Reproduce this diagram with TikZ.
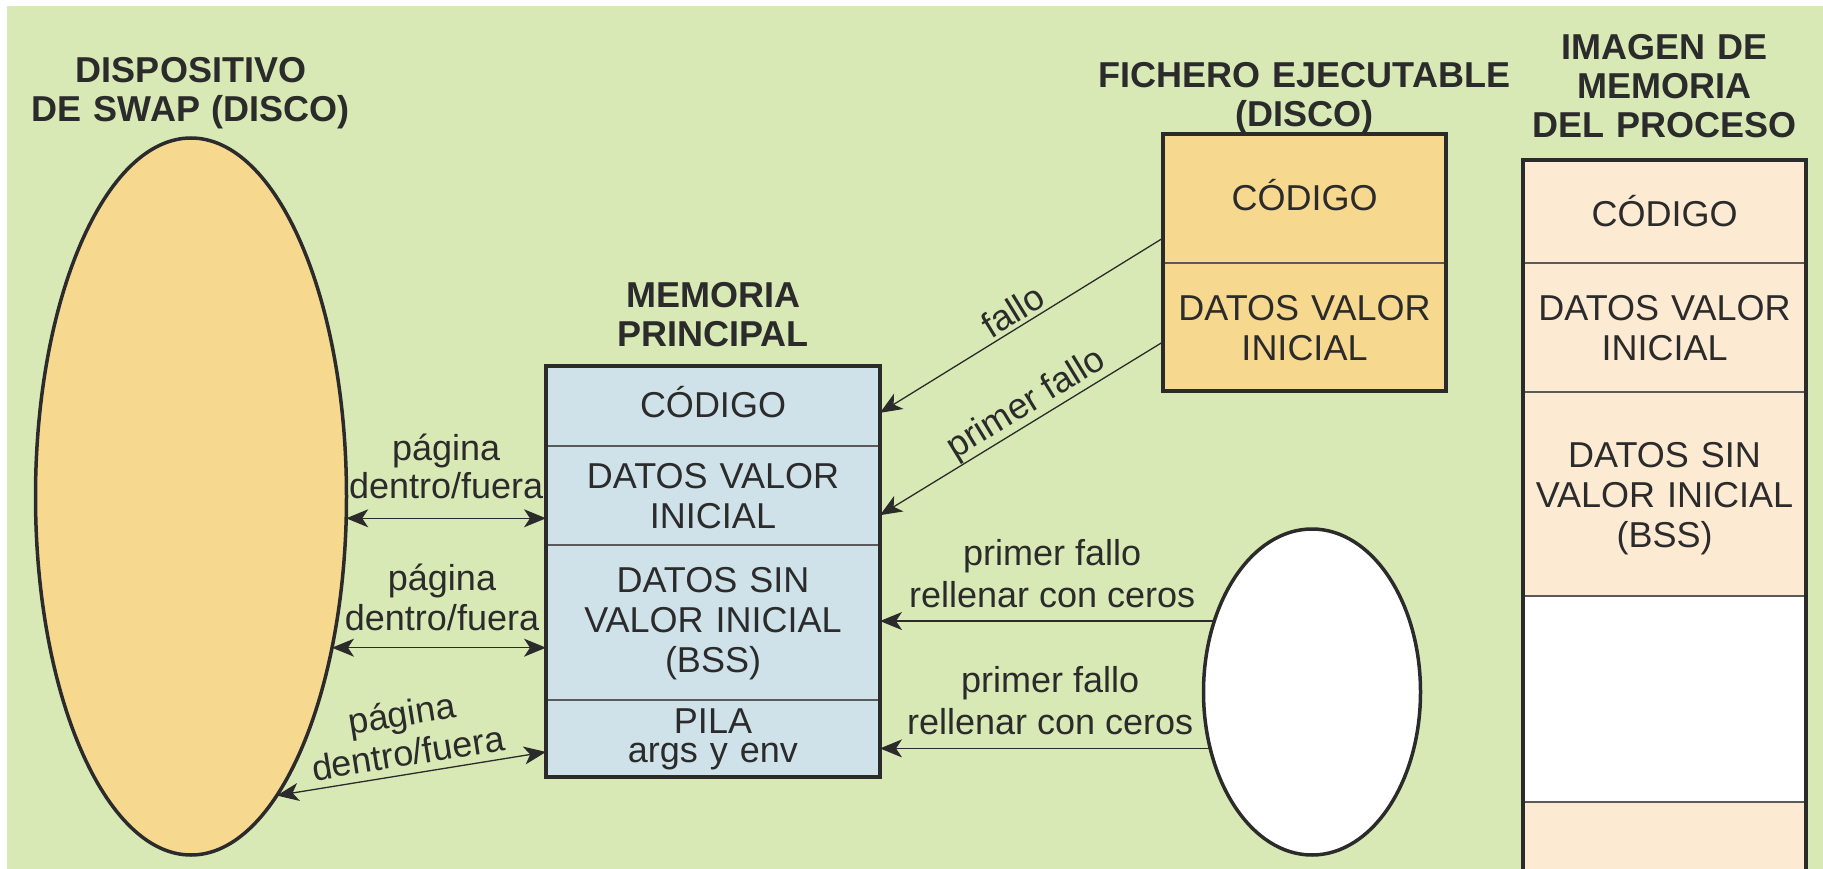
\documentclass[tikz,border=0pt]{standalone}
\usepackage{fontspec}
\setmainfont{Liberation Sans}
\usetikzlibrary{shapes.geometric,arrows.meta,calc}
\definecolor{bggreen}{HTML}{D9E9B5}
\definecolor{swaporange}{HTML}{F7D88F}
\definecolor{memblue}{HTML}{CFE2E9}
\definecolor{imgpeach}{HTML}{FDEAD3}
\definecolor{ink}{HTML}{2B2B2B}
\definecolor{divgray}{HTML}{5A5A5A}
\begin{document}
\begin{tikzpicture}[x=1pt,y=-1pt,
  every node/.style={inner sep=0pt, outer sep=0pt, text=ink},
  title/.style={font=\fontsize{36}{39}\selectfont\bfseries, align=center, text width=#1, anchor=base},
  boxtxt/.style={font=\fontsize{36}{40}\selectfont, align=center, text width=#1, anchor=base},
  lbl/.style={font=\fontsize{36}{41}\selectfont, align=center},
  thickbox/.style={draw=ink, line width=3.5pt},
  divider/.style={draw=divgray, line width=1.5pt, shorten <=1.75pt, shorten >=1.75pt},
  arr/.style={draw=ink, line width=1.3pt, -{Stealth[length=22pt,width=18pt,inset=6pt]}},
  arrtwo/.style={draw=ink, line width=1.3pt, {Stealth[length=22pt,width=18pt,inset=6pt]}-{Stealth[length=22pt,width=18pt,inset=6pt]}},
]
\useasboundingbox (0,0) rectangle (1823,869);
\clip (0,0) rectangle (1823,869);
\fill[white] (0,0) rectangle (1823,869);
\fill[bggreen] (7,6) rectangle (1823,869);

% ---------- swap device ----------
\node[ellipse, draw=ink, line width=3.5pt, fill=swaporange, minimum width=311pt, minimum height=717pt] (swap) at (191,496.5) {};
\node[title=345pt] (swapT) at (191,83) {DISPOSITIVO\\DE SWAP (DISCO)};

% ---------- main memory ----------
\node[title=280pt] (memT) at (713,307) {MEMORIA\\PRINCIPAL};
\node[thickbox, fill=memblue, minimum width=334pt, minimum height=411pt, anchor=north west] (mem) at (546,366) {};
\coordinate (md1) at (0,446);
\coordinate (md2) at (0,545);
\coordinate (md3) at (0,700);
\draw[divider] (mem.west |- md1) -- (mem.east |- md1);
\draw[divider] (mem.west |- md2) -- (mem.east |- md2);
\draw[divider] (mem.west |- md3) -- (mem.east |- md3);
\node[boxtxt=320pt] (memC) at (713,417) {CÓDIGO};
\node[boxtxt=320pt] (memD) at (713,488) {DATOS VALOR\\INICIAL};
\node[boxtxt=320pt] (memB) at (713,592) {DATOS SIN\\VALOR INICIAL\\(BSS)};
\node[boxtxt=320pt, font=\fontsize{36}{29}\selectfont] (memP) at (713,733) {PILA\\args y env};

% ---------- executable file ----------
\node[title=416pt] (fichT) at (1304.5,88) {FICHERO EJECUTABLE\\(DISCO)};
\node[thickbox, fill=swaporange, minimum width=283pt, minimum height=257pt, anchor=north west] (fich) at (1163,134) {};
\coordinate (fd1) at (0,263);
\draw[divider] (fich.west |- fd1) -- (fich.east |- fd1);
\node[boxtxt=270pt] (fichC) at (1304.5,211) {CÓDIGO};
\node[boxtxt=270pt] (fichD) at (1304.5,320) {DATOS VALOR\\INICIAL};

% ---------- process memory image ----------
\node[title=280pt] (imgT) at (1664.5,60) {IMAGEN DE\\MEMORIA\\DEL PROCESO};
\node[fill=imgpeach, minimum width=283pt, minimum height=760pt, anchor=north west] (img) at (1523,160) {};
\node[fill=white, minimum width=283pt, minimum height=206pt, anchor=north west] (imgW) at (1523,596) {};
\coordinate (id1) at (0,263);
\coordinate (id2) at (0,392);
\coordinate (id3) at (0,596);
\coordinate (id4) at (0,802);
\draw[divider] (img.west |- id1) -- (img.east |- id1);
\draw[divider] (img.west |- id2) -- (img.east |- id2);
\draw[divider] (img.west |- id3) -- (img.east |- id3);
\draw[divider] (img.west |- id4) -- (img.east |- id4);
\draw[thickbox] (img.north west) rectangle (img.south east);
\node[boxtxt=270pt] (imgC) at (1664.5,226) {CÓDIGO};
\node[boxtxt=270pt] (imgD) at (1664.5,320) {DATOS VALOR\\INICIAL};
\node[boxtxt=270pt] (imgB) at (1664.5,467) {DATOS SIN\\VALOR INICIAL\\(BSS)};

% ---------- zero-fill source ----------
\node[ellipse, draw=ink, line width=3.5pt, fill=white, minimum width=217pt, minimum height=326pt] (zero) at (1312,692) {};

% ---------- connectors ----------
\draw[arrtwo] (swap.-8.6) -- (swap.-8.6 -| mem.west)
  node[lbl, font=\fontsize{36}{38}\selectfont, midway, above=19pt] (l1) {página\\dentro/fuera};
\draw[arrtwo] (swap.-47.1) -- (swap.-47.1 -| mem.west)
  node[lbl, font=\fontsize{36}{40}\selectfont, midway, above=17pt, xshift=3pt] (l2) {página\\dentro/fuera};
\draw[arrtwo] (swap.-74.7) -- ($(mem.north west)!0.939!(mem.south west)$)
  node[lbl, font=\fontsize{36}{40}\selectfont, midway, sloped, above=8pt] (l3) {página\\dentro/fuera};

\draw[arr] ($(fich.north west)!0.405!(fich.south west)$) -- ($(mem.north east)!0.114!(mem.south east)$)
  node[lbl, midway, sloped, above=4pt] (f1) {fallo};
\draw[arr] ($(fich.north west)!0.809!(fich.south west)$) -- ($(mem.north east)!0.363!(mem.south east)$)
  node[lbl, pos=0.45, sloped, above=1pt] (f2) {primer fallo};

\draw[arr] (zero.144.5) -- (zero.144.5 -| mem.east)
  node[lbl, font=\fontsize{36}{42}\selectfont, midway, above=13pt, xshift=5pt] (z1) {primer fallo\\rellenar con ceros};
\draw[arr] (zero.209.8) -- (zero.209.8 -| mem.east)
  node[lbl, font=\fontsize{36}{42}\selectfont, midway, above=14pt, xshift=5pt] (z2) {primer fallo\\rellenar con ceros};
\end{tikzpicture}
\end{document}
